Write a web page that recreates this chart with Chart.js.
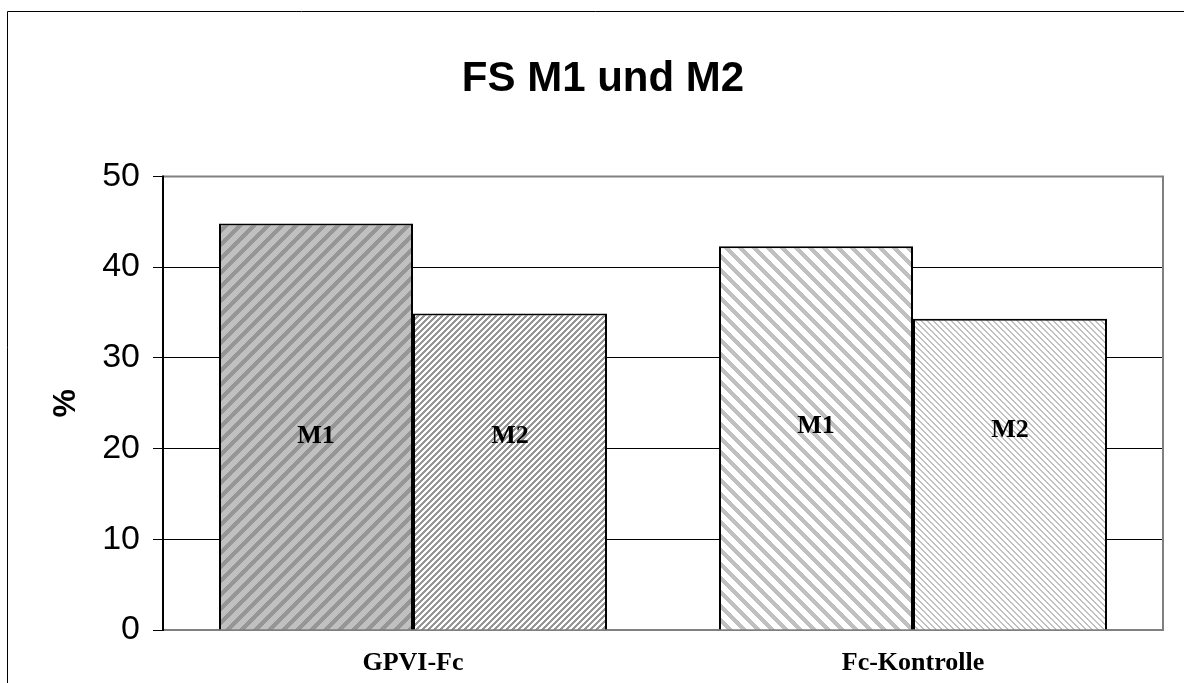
<!DOCTYPE html>
<html>
<head>
<meta charset="utf-8">
<script src="https://cdn.jsdelivr.net/npm/chart.js@4.4.0/dist/chart.umd.min.js"></script>
<style>
  body { margin: 0; background: #ffffff; }
</style>
</head>
<body>
<canvas id="myChart" width="1184" height="683"></canvas>
<script>
// data
var categories = ['GPVI-Fc', 'Fc-Kontrolle'];
var seriesNames = ['M1', 'M2'];
var m1Values = [44.8, 42.3];
var m2Values = [34.9, 34.3];
// height (in %) where the M1 / M2 name sits inside each bar
var m1LabelAt = [21.3, 22.5];
var m2LabelAt = [21.3, 22.0];
var yMin = 0, yMax = 50, yStep = 10;

var ctx = document.getElementById('myChart').getContext('2d');

// hatch fill, dir 1 = "/" , dir -1 = "\"
function hatch(size, bg, fg, dir, width) {
    var c = document.createElement('canvas');
    c.width = size;
    c.height = size;
    var g = c.getContext('2d');
    g.fillStyle = bg;
    g.fillRect(0, 0, size, size);
    g.fillStyle = fg;
    for (var y = 0; y < size; y++) {
        for (var x = 0; x < size; x++) {
            var k = dir > 0 ? (x + y) % size : (x - y + size) % size;
            if (k < width) g.fillRect(x, y, 1, 1);
        }
    }
    return ctx.createPattern(c, 'repeat');
}

var fills = {
    m1: [hatch(14, '#c0c0c0', '#969696', 1, 6), hatch(14, '#ffffff', '#c0c0c0', -1, 6)],
    m2: [hatch(6, '#ffffff', '#969696', 1, 3), hatch(6, '#ffffff', '#c0c0c0', -1, 2)]
};

var frame = {
    id: 'frame',
    beforeDraw: function(chart) {
        var c = chart.ctx;
        c.save();
        c.fillStyle = '#ffffff';
        c.fillRect(0, 0, chart.width, chart.height);
        c.strokeStyle = '#000000';
        c.lineWidth = 1;
        c.beginPath();
        c.moveTo(7.5, chart.height);
        c.lineTo(7.5, 11.5);
        c.lineTo(chart.width, 11.5);
        c.stroke();
        c.restore();
    },
    beforeDatasetsDraw: function(chart) {
        var a = chart.chartArea;
        var c = chart.ctx;
        c.save();
        c.strokeStyle = '#808080';
        c.lineWidth = 2;
        c.beginPath();
        c.moveTo(a.left, a.top);
        c.lineTo(a.right, a.top);
        c.lineTo(a.right, a.bottom);
        c.lineTo(a.left, a.bottom);
        c.stroke();
        c.strokeStyle = '#000000';
        c.beginPath();
        c.moveTo(a.left, a.top - 1);
        c.lineTo(a.left, a.bottom + 1);
        c.stroke();
        c.restore();
    },
    afterDatasetsDraw: function(chart) {
        var c = chart.ctx;
        var y = chart.scales.y;
        var levels = [m1LabelAt, m2LabelAt];
        c.save();
        c.fillStyle = '#000000';
        c.font = 'bold 26px "Liberation Serif", "Times New Roman", serif';
        c.textAlign = 'center';
        c.textBaseline = 'middle';
        chart.data.datasets.forEach(function(ds, i) {
            chart.getDatasetMeta(i).data.forEach(function(bar, j) {
                c.fillText(ds.label, bar.x, y.getPixelForValue(levels[i][j]));
            });
        });
        c.restore();
    }
};

var chart = new Chart(ctx, {
    type: 'bar',
    data: {
        labels: categories,
        datasets: [
            {
                label: seriesNames[0],
                data: m1Values,
                backgroundColor: fills.m1,
                borderColor: '#000000',
                borderWidth: 2
            },
            {
                label: seriesNames[1],
                data: m2Values,
                backgroundColor: fills.m2,
                borderColor: '#000000',
                borderWidth: 2
            }
        ]
    },
    options: {
        responsive: false,
        animation: false,
        layout: {
            padding: { left: 43, right: 21, top: 0, bottom: 0 }
        },
        categoryPercentage: 0.776,
        barPercentage: 1,
        plugins: {
            legend: { display: false },
            tooltip: { enabled: false },
            title: {
                display: true,
                text: 'FS M1 und M2',
                color: '#000000',
                font: { family: '"Liberation Sans", Arial, sans-serif', size: 42, weight: 'bold' },
                padding: { top: 54, bottom: 72 }
            }
        },
        scales: {
            x: {
                grid: { display: false, drawTicks: false },
                border: { display: false },
                ticks: {
                    color: '#000000',
                    padding: 18,
                    font: { family: '"Liberation Serif", "Times New Roman", serif', size: 26, weight: 'bold' }
                },
                afterFit: function(scale) { scale.height = 53; }
            },
            y: {
                min: yMin,
                max: yMax,
                ticks: {
                    stepSize: yStep,
                    color: '#000000',
                    padding: 13,
                    font: { family: '"Liberation Sans", Arial, sans-serif', size: 34 }
                },
                grid: {
                    color: function(c) {
                        return (c.tick && (c.tick.value === yMin || c.tick.value === yMax)) ? 'rgba(0,0,0,0)' : '#000000';
                    },
                    tickColor: '#000000',
                    tickLength: 10,
                    lineWidth: 1
                },
                border: { display: false },
                title: {
                    display: true,
                    text: '%',
                    color: '#000000',
                    padding: { top: 4, bottom: 0 },
                    font: { family: '"Liberation Sans", Arial, sans-serif', size: 32, weight: 'bold' }
                },
                afterFit: function(scale) { scale.width = 120; }
            }
        }
    },
    plugins: [frame]
});
</script>
</body>
</html>
